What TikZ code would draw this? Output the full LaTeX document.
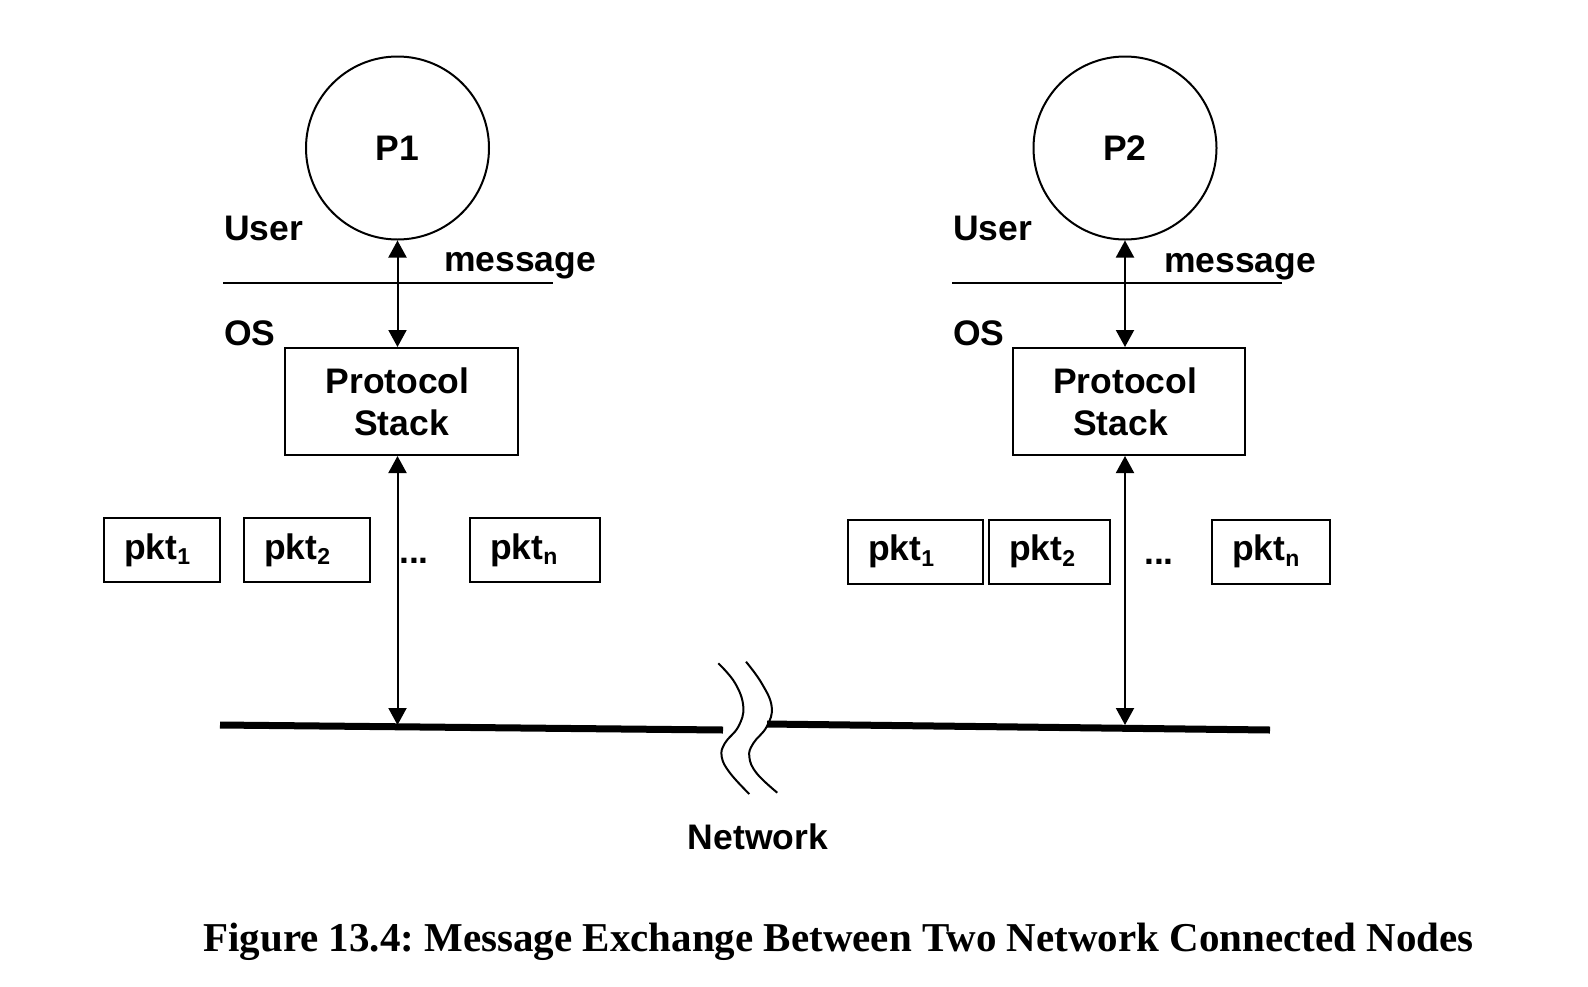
\documentclass[tikz,border=0pt]{standalone}
\usepackage{fontspec}
\setmainfont{Liberation Sans}
\newfontfamily\capfont{Liberation Serif}
\usetikzlibrary{arrows.meta}
\newcommand{\pktsub}[1]{\raisebox{-0.3ex}{\fontsize{23}{23}\selectfont #1}}
\frenchspacing
\begin{document}
\begin{tikzpicture}[x=1pt,y=-1pt,
  lbl/.style={font=\fontsize{35.5}{42}\selectfont\bfseries, inner sep=0pt},
  proc/.style={draw, circle, line width=2pt, minimum size=183pt, inner sep=0pt, lbl},
  stackbox/.style={draw, line width=2pt, minimum height=107pt, align=center, lbl},
  pktbox/.style={draw, line width=2pt, minimum height=64pt, lbl, inner xsep=20pt, align=left},
  sep/.style={line width=2pt},
  dbl/.style={line width=2pt, {Triangle[width=18pt,length=17pt]}-{Triangle[width=18pt,length=17pt]}},
  net/.style={line width=7pt},
  wave/.style={line width=2pt}
]
\useasboundingbox (0,0) rectangle (1588,986);

% ---- left host ----
\node[proc] (P1) at (397.5,148) {P1};
\node[stackbox, minimum width=233pt] (S1) at (401.5,401.5) {Protocol\kern8pt\relax\\Stack};
\node[lbl, anchor=base west] (user1) at (224,240) {User};
\node[lbl, anchor=base west] (msg1) at (444,271) {message};
\node[lbl, anchor=base west] (os1) at (224,345) {OS};
\coordinate (u1a) at (223,283);
\coordinate (u1b) at (553,283);
\draw[sep] (u1a) -- (u1b);
\draw[dbl] (P1.south) -- (P1.south |- S1.north);

\node[pktbox, text width=76pt] (a1) at (162,550) {pkt\pktsub{1}};
\node[pktbox, text width=86pt] (a2) at (307,550) {pkt\pktsub{2}};
\node[lbl, anchor=base] (ad) at (414,563) {...};
\node[pktbox, text width=90pt] (an) at (535,550) {pkt\pktsub{n}};

% ---- right host ----
\node[proc] (P2) at (1125,148) {P2};
\node[stackbox, minimum width=232pt] (S2) at (1129,401.5) {Protocol\kern8pt\relax\\Stack\kern17pt\relax};
\node[lbl, anchor=base west] (user2) at (953,240) {User};
\node[lbl, anchor=base west] (msg2) at (1164,272) {message};
\node[lbl, anchor=base west] (os2) at (953,345) {OS};
\coordinate (u2a) at (952,283);
\coordinate (u2b) at (1282,283);
\draw[sep] (u2a) -- (u2b);
\draw[dbl] (P2.south) -- (P2.south |- S2.north);

\node[pktbox, text width=95pt] (b1) at (915.5,551.5) {pkt\pktsub{1}};
\node[pktbox, text width=81pt] (b2) at (1049.5,551.5) {pkt\pktsub{2}};
\node[lbl, anchor=base] (bd) at (1159,564) {...};
\node[pktbox, text width=78pt] (bn) at (1271,551.5) {pkt\pktsub{n}};

% ---- network ----
\coordinate (na) at (220,725);
\coordinate (nb) at (723,730);
\coordinate (nc) at (767,724);
\coordinate (nd) at (1270,730);
\draw[net] (na) -- (nb);
\draw[net] (nc) -- (nd);
\coordinate (t1) at (397.5,725);
\coordinate (t2) at (1125,725);
\draw[dbl] (S1.south -| P1.south) -- (t1);
\draw[dbl] (S2.south -| P2.south) -- (t2);

\draw[wave] plot[smooth, tension=0.7] coordinates {(718.3,663.3) (735,683) (743.3,706.7) (738.3,726.7) (725,743) (721.7,756.7) (730,773) (749.3,794)};
\draw[wave] plot[smooth, tension=0.7] coordinates {(746,661.7) (761.7,683.3) (771.7,706.7) (766.7,726.7) (753.3,743.3) (749.3,756.7) (756.7,773.3) (777.3,792.7)};

\node[lbl] (netlbl) at (758,837) {Network};

\node[font=\capfont\bfseries\fontsize{41}{47}\selectfont, inner sep=0pt, anchor=base] (cap) at (838.5,951) {Figure 13.4: Message Exchange Between Two Network Connected Nodes};
\end{tikzpicture}
\end{document}
